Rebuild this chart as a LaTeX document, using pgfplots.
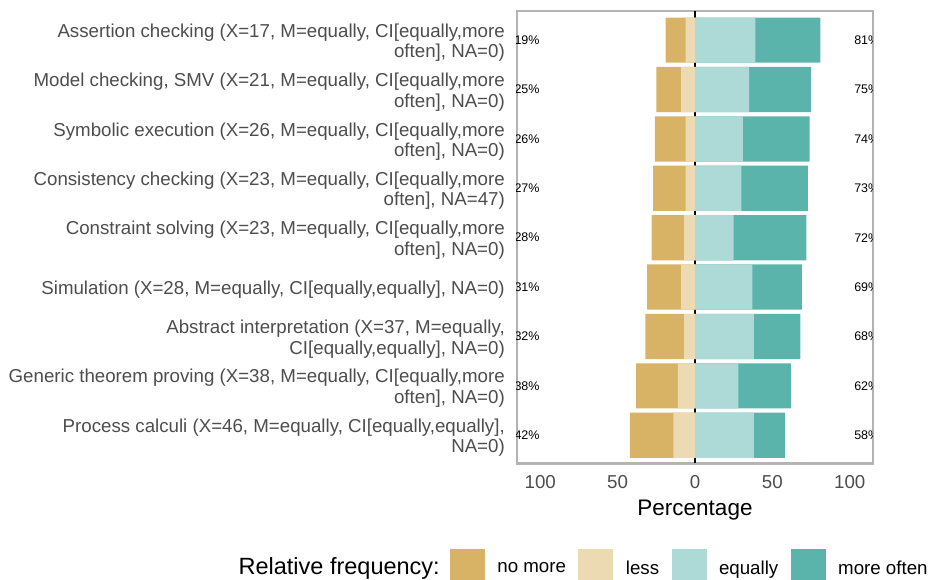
\documentclass[border=0pt]{standalone}
\usepackage{pgfplots}
\pgfplotsset{compat=1.18}
\usepackage{pgfplotstable}
\usepackage{fontspec}
\setmainfont{Liberation Sans}
\definecolor{cNoMore}{HTML}{D8B365}
\definecolor{cLess}{HTML}{EBDAB2}
\definecolor{cEqually}{HTML}{ADD9D6}
\definecolor{cMore}{HTML}{5AB4AC}
\definecolor{cBorder}{HTML}{B3B3B3}
\definecolor{cText}{HTML}{4D4D4D}

% row: 1 = top. nomore/less are the cumulative left ends, equally/total the right ends
\pgfplotstableread{
row nomore less equally total lo hi lx rx
1 -19 -6  39 81 19 81 -108.5 111
2 -25 -9  35 75 25 75 -108.5 111
3 -26 -6  31 74 26 74 -108.5 111
4 -27 -6  30 73 27 73 -108.5 111
5 -28 -7  25 72 28 72 -108.5 111
6 -31 -9  37 69 31 69 -108.5 111
7 -32 -7  38 68 32 68 -108.5 111
8 -38 -11 28 62 38 62 -108.5 111
9 -42 -14 38 58 42 58 -108.5 111
}\data

\begin{document}
\begin{tikzpicture}
\useasboundingbox (0,0) rectangle (935pt,580pt);
\begin{axis}[
  name=ax,
  at={(517pt,116.6pt)}, anchor=south west,
  scale only axis, width=356pt, height=452.4pt,
  /pgf/number format/assume math mode=true,
  xmin=-115, xmax=115,
  ymin=0.41, ymax=9.57, y dir=reverse,
  xtick={-100,-50,0,50,100}, xticklabels={100,50,0,50,100},
  ytick={1,2,3,4,5,6,7,8,9},
  yticklabels={
    {Assertion checking (X=17, M=equally, CI[equally,more\\often], NA=0)},
    {Model checking, SMV (X=21, M=equally, CI[equally,more\\often], NA=0)},
    {Symbolic execution (X=26, M=equally, CI[equally,more\\often], NA=0)},
    {Consistency checking (X=23, M=equally, CI[equally,more\\often], NA=47)},
    {Constraint solving (X=23, M=equally, CI[equally,more\\often], NA=0)},
    {Simulation (X=28, M=equally, CI[equally,equally], NA=0)},
    {Abstract interpretation (X=37, M=equally,\\CI[equally,equally], NA=0)},
    {Generic theorem proving (X=38, M=equally, CI[equally,more\\often], NA=0)},
    {Process calculi (X=46, M=equally, CI[equally,equally],\\NA=0)}},
  major tick length=0pt,
  axis line style={draw=cBorder, line width=2.5pt},
  xticklabel style={font=\fontsize{18.7}{20}\selectfont, text=cText, anchor=base, inner sep=0pt, yshift=-25.5pt},
  yticklabel style={font=\fontsize{18.7}{20.5}\selectfont, text=cText, align=right, anchor=east, inner sep=0pt, xshift=-12pt, yshift=-2.5pt},
  xlabel={Percentage},
  xlabel style={font=\fontsize{22.5}{25}\selectfont, at={(axis description cs:0.5,0)}, anchor=base, yshift=-52.5pt},
  legend style={
    at={(axis description cs:-0.1882,-0.1892)}, anchor=north west,
    draw=none, fill=none, inner sep=0pt, outer sep=0pt,
    legend columns=4,
    font=\fontsize{18.7}{22}\selectfont,
    nodes={inner sep=0pt},
    /tikz/every odd column/.append style={column sep=13pt},
    /tikz/every even column/.append style={column sep=12.5pt},
  },
  legend cell align=left,
  clip marker paths=true,
  mybar/.style={xbar, bar width=0.915, bar shift=0pt, draw=none, forget plot},
  pctlabel/.style={forget plot, draw=none, mark=none,
    point meta=explicit, nodes near coords={\pgfmathprintnumber{\pgfplotspointmeta}\%},
    nodes near coords align=center,
    every node near coord/.append style={font=\fontsize{12.5}{14}\selectfont, text=black, inner sep=0pt, anchor=center}},
]
\addplot[black, line width=1.8pt, forget plot] coordinates {(0,0.41) (0,9.57)};
\addplot[mybar, fill=cMore]    table[x=total,   y=row] {\data};
\addplot[mybar, fill=cEqually] table[x=equally, y=row] {\data};
\addplot[mybar, fill=cNoMore]  table[x=nomore,  y=row] {\data};
\addplot[mybar, fill=cLess]    table[x=less,    y=row] {\data};

\addplot[pctlabel] table[x=lx, y=row, meta=lo] {\data};
\addplot[pctlabel] table[x=rx, y=row, meta=hi] {\data};

\addlegendimage{legend image code/.code={\fill[cNoMore] (0pt,-10.7pt) rectangle (34pt,19.3pt);}}
\addlegendentry{no more}
\addlegendimage{legend image code/.code={\fill[cLess] (0pt,-10.7pt) rectangle (34pt,19.3pt);}}
\addlegendentry{less}
\addlegendimage{legend image code/.code={\fill[cEqually] (0pt,-10.7pt) rectangle (34pt,19.3pt);}}
\addlegendentry{equally}
\addlegendimage{legend image code/.code={\fill[cMore] (0pt,-10.7pt) rectangle (34pt,19.3pt);}}
\addlegendentry{more often}
\end{axis}
\node[anchor=base east, inner sep=0pt, font=\fontsize{23.5}{26}\selectfont]
  at ([xshift=-77pt, yshift=-110.9pt]ax.south west) {Relative frequency:};
\end{tikzpicture}
\end{document}
